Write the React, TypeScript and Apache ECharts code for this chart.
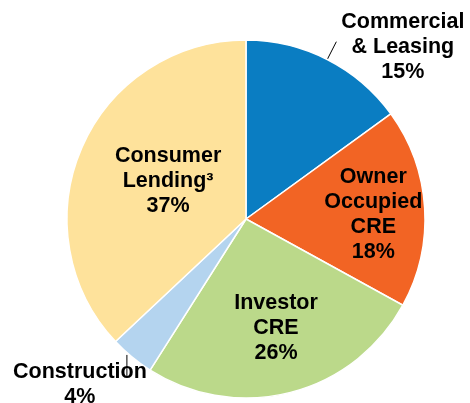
import React, { useEffect, useRef } from "react";
import * as echarts from "echarts";

const categories = ["Commercial & Leasing", "Owner Occupied CRE", "Investor CRE", "Construction", "Consumer Lending³"];
const labelLines = ["Commercial\n& Leasing", "Owner\nOccupied\nCRE", "Investor\nCRE", "Construction", "Consumer\nLending³"];
const values = [15, 18, 26, 4, 37];
const colors = ["#0A7DC2", "#F26424", "#BBD98A", "#B4D4EF", "#FEE29B"];

export default function App() {
  const ref = useRef<HTMLDivElement>(null);
  useEffect(() => {
    const chart = echarts.init(ref.current!, undefined, { renderer: "svg" });
    const insideShift: Record<number, [number, number]> = { 1: [35, 0], 2: [7, 18], 4: [7, -2] };
    chart.setOption({
      animation: false,
      series: [
        {
          type: "pie",
          center: [246, 219],
          radius: 179,
          startAngle: 90,
          clockwise: true,
          avoidLabelOverlap: false,
          itemStyle: { borderColor: "#ffffff", borderWidth: 1.5 },
          label: {
            position: "inside",
            fontFamily: "Arial, Liberation Sans, sans-serif",
            fontWeight: "bold",
            fontSize: 21.5,
            lineHeight: 25,
            color: "#000000",
            align: "center",
          },
          labelLine: { show: false },
          labelLayout: (p: any) => {
            const i = p.dataIndex;
            if (insideShift[i]) return { dx: insideShift[i][0], dy: insideShift[i][1] };
            const pts = p.labelLinePoints;
            if (!pts) return {};
            const w = p.labelRect.width;
            if (i === 0) {
              const end = pts[1];
              return {
                x: end[0] + 5 + w / 2,
                y: end[1] + 4,
                align: "center",
                verticalAlign: "middle",
                labelLinePoints: [pts[0], end],
              };
            }
            const s = pts[0];
            return {
              x: s[0] - 52,
              y: s[1] + 27,
              align: "center",
              verticalAlign: "middle",
              labelLinePoints: [[s[0] - 5, s[1] - 2], [s[0] - 5, s[1] + 20]],
            };
          },
          data: values.map((v, i) => ({
            value: v,
            name: categories[i],
            itemStyle: { color: colors[i] },
            label: {
              formatter: `${labelLines[i]}\n{c}%`,
              position: i === 0 || i === 3 ? "outside" : "inside",
            },
            labelLine:
              i === 0 || i === 3
                ? { show: true, length: 20, length2: 0, lineStyle: { color: "#000000", width: 1 } }
                : { show: false },
          })),
        },
      ],
    });
    return () => chart.dispose();
  }, []);
  return <div ref={ref} style={{ position: "fixed", left: 0, top: 0, width: 470, height: 403 }} />;
}
